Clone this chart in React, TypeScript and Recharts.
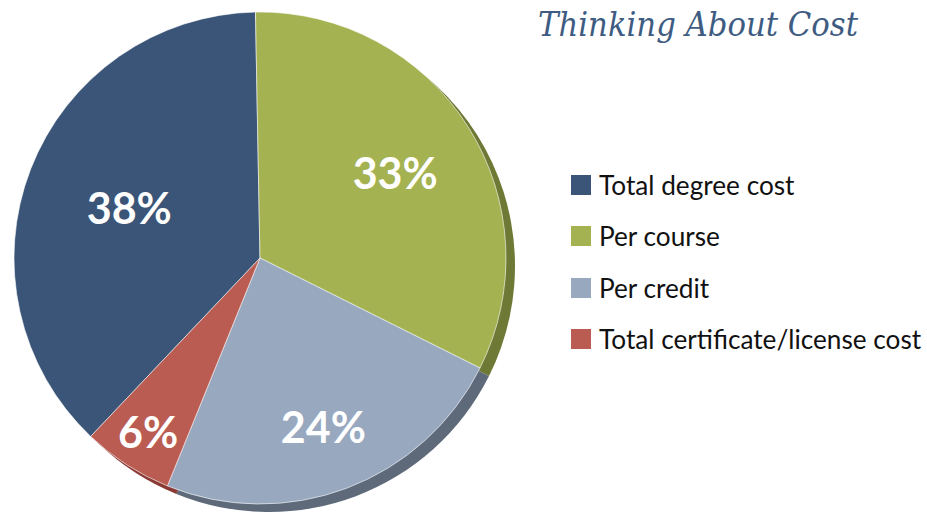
import { Legend, Pie, PieChart } from 'recharts';

// shares of respondents, clockwise from the left edge of the dark slice
const categories = ['Total degree cost', 'Per course', 'Per credit', 'Total certificate/license cost'];
const shares = [38, 33, 24, 6];

const colors = ['#3a5577', '#a5b252', '#98a8bf', '#bb5c53'];
const shadowColors = ['#2a3d57', '#6e7935', '#5e6a7a', '#8a3a34'];
// how far out each % label sits, as a fraction of the radius
const labelDepth = [0.57, 0.65, 0.73, 0.84];

const data = categories.map((name, i) => ({ name, value: shares[i], fill: colors[i] }));
const shadowData = categories.map((name, i) => ({ name, value: shares[i], fill: shadowColors[i] }));

const RAD = Math.PI / 180;

function renderLabel(props: any) {
  const { cx, cy, midAngle, outerRadius, index, value } = props;
  const r = outerRadius * labelDepth[index];
  const x = cx + r * Math.cos(-midAngle * RAD);
  const y = cy + r * Math.sin(-midAngle * RAD);
  return (
    <text
      x={x}
      y={y}
      fill="#ffffff"
      textAnchor="middle"
      dominantBaseline="central"
      style={{ fontFamily: 'Lato, "Open Sans", sans-serif', fontWeight: 700, fontSize: 43 }}
    >
      {`${value}%`}
    </text>
  );
}

function LegendBox() {
  return (
    <div style={{ fontFamily: 'Lato, "Noto Sans", sans-serif', fontSize: 26.2, color: '#111' }}>
      {categories.map((c, i) => (
        <div key={c} style={{ display: 'flex', alignItems: 'center', height: 20, marginBottom: 31.3 }}>
          <div style={{ width: 20, height: 20, background: colors[i], marginRight: 8 }} />
          <span style={{ lineHeight: '20px', whiteSpace: 'nowrap' }}>{c}</span>
        </div>
      ))}
    </div>
  );
}

export default function App() {
  return (
    <div style={{ position: 'absolute', left: 0, top: 0, width: 927, height: 514, background: '#fff' }}>
      <PieChart width={927} height={514} margin={{ top: 0, right: 0, bottom: 0, left: 0 }}>
        {/* offset copy behind the main pie gives the edge shadow */}
        <Pie
          data={shadowData}
          dataKey="value"
          cx={269}
          cy={266}
          outerRadius={246}
          startAngle={226.5}
          endAngle={-133.5}
          stroke="none"
          legendType="none"
          isAnimationActive={false}
        />
        <Pie
          data={data}
          dataKey="value"
          cx={260}
          cy={258}
          outerRadius={246}
          startAngle={226.5}
          endAngle={-133.5}
          stroke="#ffffff"
          strokeWidth={0.6}
          label={renderLabel}
          labelLine={false}
          isAnimationActive={false}
        />
        <Legend
          content={() => <LegendBox />}
          wrapperStyle={{ position: 'absolute', left: 571, top: 175, width: 356, bottom: 'auto', right: 'auto' }}
        />
      </PieChart>
      <svg width={927} height={60} style={{ position: 'absolute', left: 0, top: 0 }}>
        <text
          x={538}
          y={36}
          fill="#3e5c82"
          textLength={320}
          lengthAdjust="spacingAndGlyphs"
          style={{ fontFamily: '"DejaVu Serif", serif', fontStyle: 'italic', fontSize: 33 }}
        >
          Thinking About Cost
        </text>
      </svg>
    </div>
  );
}
